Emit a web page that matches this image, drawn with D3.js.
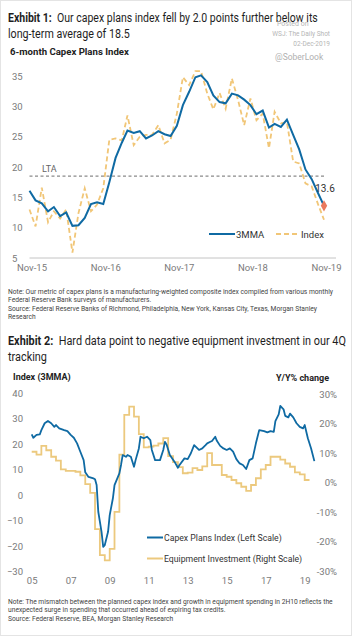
<!DOCTYPE html>
<html>
<head>
<meta charset="utf-8">
<script src="https://cdn.jsdelivr.net/npm/d3@7"></script>
<style>
  body { margin: 0; background: #fff; }
  svg { font-family: Roboto, "Noto Sans", sans-serif; display: block; }
</style>
</head>
<body>
<svg id="chart" width="352" height="637"></svg>
<script>
// ---- exhibit 1: monthly Nov-15 .. Nov-19
const ex1Start = "2015-11";
const ex1Ticks = ["Nov-15", "Nov-16", "Nov-17", "Nov-18", "Nov-19"];
const capex3mma = [16.1, 14.5, 14.0, 12.7, 13.4, 11.9, 12.5, 10.3, 10.4, 11.6, 13.9, 14.2, 13.9,
  17.5, 21.5, 24.0, 26.0, 25.6, 25.9, 24.7, 25.2, 25.9, 25.4, 25.1, 26.8, 30.2, 32.4, 34.8,
  35.1, 34.0, 31.8, 30.7, 30.5, 32.1, 31.8, 31.1, 30.2, 28.7, 29.3, 26.5, 27.1, 26.6, 27.8,
  25.3, 22.9, 19.6, 18.0, 15.8, 13.6];
const capexIndex = [13.0, 10.2, 16.6, 10.9, 12.7, 11.5, 13.0, 5.9, 12.4, 16.5, 12.7, 13.8, 16.5,
  24.5, 24.7, 24.4, 28.5, 23.6, 25.0, 25.3, 25.3, 26.9, 23.9, 24.5, 28.8, 34.8, 33.5, 35.8,
  35.8, 32.1, 29.5, 32.2, 29.6, 34.6, 31.0, 26.9, 31.3, 27.7, 28.8, 23.1, 29.1, 27.2, 27.4,
  20.9, 20.6, 17.3, 16.8, 14.0, 11.3];
const ltaValue = 18.5;
const ex1YTicks = [5, 10, 15, 20, 25, 30, 35];

// ---- exhibit 2
const capexDates2 = ["2005-01", "2005-02", "2005-04", "2005-06", "2005-07", "2005-09", "2005-11",
  "2006-01", "2006-03", "2006-04", "2006-06", "2006-09", "2006-11", "2007-01", "2007-03",
  "2007-05", "2007-07", "2007-09", "2007-10", "2007-12", "2008-03", "2008-04", "2008-05",
  "2008-06", "2008-08", "2008-09", "2008-10", "2008-12", "2009-01", "2009-03", "2009-04",
  "2009-07", "2009-08", "2009-09", "2009-11", "2009-12", "2010-02", "2010-04", "2010-05",
  "2010-07", "2010-08", "2010-10", "2010-12", "2011-02", "2011-03", "2011-05", "2011-08",
  "2011-10", "2011-11", "2011-12", "2012-02", "2012-05", "2012-07", "2012-08", "2012-11",
  "2013-01", "2013-03", "2013-05", "2013-08", "2013-10", "2013-12", "2014-01", "2014-03",
  "2014-04", "2014-06", "2014-07", "2014-09", "2014-11", "2015-01", "2015-03", "2015-05",
  "2015-07", "2015-09", "2015-11", "2016-01", "2016-03", "2016-05", "2016-07", "2016-09",
  "2016-12", "2017-02", "2017-04", "2017-06", "2017-07", "2017-09", "2017-10", "2017-12",
  "2018-01", "2018-03", "2018-04", "2018-06", "2018-08", "2018-10", "2018-12", "2019-01",
  "2019-03", "2019-05", "2019-07"];
const capexValues2 = [23.9, 22.6, 23.7, 23.9, 25.6, 28.3, 29.2, 28.3, 26.9, 27.6, 26.3, 25.6,
  25.2, 23.7, 22.6, 20.4, 17.1, 13.8, 9.0, 7.2, 6.6, 6.3, 4.0, -6.5, -14.4, -20.3, -19.6,
  -14.4, -7.8, -1.3, 4.0, 8.6, 11.9, 15.8, 15.1, 15.8, 15.1, 11.2, 13.8, 18.4, 23.0, 22.4,
  23.0, 21.7, 17.8, 13.8, 13.8, 17.8, 21.0, 20.0, 15.8, 13.1, 10.8, 11.9, 14.5, 14.2, 16.5,
  19.7, 17.8, 18.4, 19.7, 20.4, 21.0, 21.3, 23.0, 21.4, 19.4, 18.4, 17.8, 18.4, 17.1, 14.2,
  12.5, 11.9, 10.3, 13.8, 14.5, 20.4, 25.6, 25.2, 24.7, 25.2, 24.9, 29.1, 31.8, 35.1, 33.8,
  31.2, 30.6, 32.1, 30.6, 28.3, 26.9, 26.3, 27.6, 22.4, 18.4, 13.4];
// equipment investment y/y %, quarterly from 2005Q1
const equipStart = "2005-01";
const equipValues = [10.5, 9.5, 12.5, 11.0, 8.8, 7.5, 4.5, 4.0, 4.0, 3.7, 2.5, -0.5, -3.5,
  -15.8, -24.6, -26.4, -22.5, -9.9, 9.5, 23.0, 25.8, 22.4, 16.5, 12.0, 12.2, 12.6, 13.3, 15.1,
  9.0, 7.0, 5.3, 3.2, 3.4, 4.9, 4.3, 5.5, 10.0, 6.0, 6.0, 2.6, 2.0, 0.9, -0.2, -1.4, -2.8,
  -0.8, 1.5, 4.5, 6.0, 8.8, 8.8, 7.8, 6.5, 5.4, 3.5, 2.8, 0.9, 0.9];
const ex2XTicks = ["05", "07", "09", "11", "13", "15", "17", "19"];
const ex2LeftTicks = [-30, -20, -10, 0, 10, 20, 30, 40];
const ex2RightTicks = [-30, -20, -10, 0, 10, 20, 30];

const blue = "#0f6aa3";
const gold = "#f1c677";
const gold2 = "#ecc97e";
const grey = "#7a7a7a";

const parseMonth = d3.timeParse("%Y-%m");
const svg = d3.select("#chart");

// frame
svg.append("rect")
  .attr("x", 0.5).attr("y", 0.5).attr("width", 351).attr("height", 635)
  .attr("fill", "#fff").attr("stroke", "#e4e4e4");

function addLines(lines, x, y0, lh, size, color) {
  const t = svg.append("text")
    .attr("x", x).attr("y", y0)
    .style("font-size", size + "px").style("fill", color);
  lines.forEach((l, i) => {
    t.append("tspan").attr("x", x).attr("y", y0 + i * lh).text(l);
  });
  return t;
}

// title line, squeezed horizontally to the width seen in the picture
function addTitle(label, rest, y, width) {
  const t = svg.append("text")
    .style("font-size", "13.5px").style("fill", "#1e1e1e");
  if (label) t.append("tspan").style("font-weight", "bold").text(label + "\u00a0\u00a0");
  t.append("tspan").text(rest);
  const w = t.node().getComputedTextLength();
  t.attr("transform", `translate(8,${y}) scale(${width / w},1)`);
}

//---------- EXHIBIT 1 titles
addTitle("Exhibit 1:", "Our capex plans index fell by 2.0 points further below its", 22, 310);
addTitle(null, "long-term average of 18.5", 38, 122);

// watermark
svg.append("text").attr("x", 277).attr("y", 26).style("font-size", "7px").style("fill", "#b5b5b5").text("Posted on");
svg.append("text").attr("x", 330).attr("y", 36).attr("text-anchor", "end").style("font-size", "6.5px").style("fill", "#b5b5b5").text("WSJ: The Daily Shot");
svg.append("text").attr("x", 330).attr("y", 46).attr("text-anchor", "end").style("font-size", "6.5px").style("fill", "#b5b5b5").text("02-Dec-2019");
svg.append("text").attr("x", 275).attr("y", 60).style("font-size", "8.5px").style("fill", "#b0b0b0").text("@SoberLook");

svg.append("text").attr("x", 10).attr("y", 55)
  .style("font-size", "9.6px").style("font-weight", "bold").style("fill", "#222")
  .text("6-month Capex Plans Index");

//---------- EXHIBIT 1 chart
const ex1Dates = capex3mma.map((d, i) => d3.timeMonth.offset(parseMonth(ex1Start), i));
const x1 = d3.scaleTime()
  .domain([ex1Dates[0], ex1Dates[ex1Dates.length - 1]])
  .range([29.5, 324]);
const y1 = d3.scaleLinear().domain([5, 35]).range([258, 76]);

svg.append("g")
  .attr("transform", "translate(12,0)")
  .call(d3.axisRight(y1).tickValues(ex1YTicks).tickSize(0).tickPadding(0))
  .call(g => g.select(".domain").remove())
  .selectAll("text").style("font-size", "9.5px").style("fill", grey).style("font-family", "Roboto");

const x1Axis = svg.append("g")
  .attr("transform", "translate(0,258)")
  .call(d3.axisBottom(x1)
    .tickValues(ex1Ticks.map((t, i) => d3.timeMonth.offset(parseMonth(ex1Start), i * 12)))
    .tickFormat((d, i) => ex1Ticks[i]).tickSize(0).tickPadding(6));
x1Axis.select(".domain").remove();
x1Axis.selectAll("text").attr("dx", 2).style("font-size", "9.5px").style("fill", grey).style("font-family", "Roboto");
svg.append("line")
  .attr("x1", x1.range()[0]).attr("x2", 336)
  .attr("y1", y1(5)).attr("y2", y1(5))
  .attr("stroke", "#c4c4c4").attr("stroke-width", 1);

// long term average
svg.append("line")
  .attr("x1", x1.range()[0]).attr("x2", 325)
  .attr("y1", y1(ltaValue)).attr("y2", y1(ltaValue))
  .attr("stroke", "#8a8a8a").attr("stroke-width", 1.2).attr("stroke-dasharray", "3,2.5");
svg.append("text").attr("x", 42).attr("y", y1(ltaValue) - 4)
  .style("font-size", "9px").style("fill", "#666").text("LTA");

const line1 = d3.line().x((d, i) => x1(ex1Dates[i])).y(d => y1(d));
svg.append("path").datum(capexIndex)
  .attr("d", line1).attr("fill", "none")
  .attr("stroke", gold).attr("stroke-width", 1.8).attr("stroke-dasharray", "5,3");
svg.append("path").datum(capex3mma)
  .attr("d", line1).attr("fill", "none")
  .attr("stroke", blue).attr("stroke-width", 2);

const last = capex3mma.length - 1;
svg.append("path")
  .attr("d", d3.symbol(d3.symbolDiamond, 36))
  .attr("transform", `translate(${x1(ex1Dates[last])},${y1(capex3mma[last])})`)
  .attr("fill", "#ea7a5e");
svg.append("text")
  .attr("x", x1(ex1Dates[last]) + 1).attr("y", y1(capex3mma[last]) - 14)
  .attr("text-anchor", "middle")
  .style("font-size", "10px").style("fill", "#333").text(capex3mma[last].toFixed(1));

// legend 1
svg.append("line").attr("x1", 209).attr("x2", 235).attr("y1", 234).attr("y2", 234)
  .attr("stroke", blue).attr("stroke-width", 2);
svg.append("text").attr("x", 236).attr("y", 237.5).style("font-size", "9.5px").style("fill", "#333").text("3MMA");
svg.append("line").attr("x1", 276).attr("x2", 300).attr("y1", 234).attr("y2", 234)
  .attr("stroke", gold).attr("stroke-width", 1.8).attr("stroke-dasharray", "5,3");
svg.append("text").attr("x", 301).attr("y", 237.5).style("font-size", "9.5px").style("fill", "#333").text("Index");

addLines([
  "Note: Our metric of capex plans is a manufacturing-weighted composite index compiled from various monthly",
  "Federal Reserve Bank surveys of manufacturers.",
  "Source: Federal Reserve Banks of Richmond, Philadelphia, New York, Kansas City, Texas, Morgan Stanley",
  "Research"
], 8, 294, 8.4, 6.7, "#444");

//---------- EXHIBIT 2 titles
addTitle("Exhibit 2:", "Hard data point to negative equipment investment in our 4Q", 345, 338);
addTitle(null, "tracking", 361, 39);

svg.append("text").attr("x", 13).attr("y", 380)
  .style("font-size", "9px").style("font-weight", "bold").style("fill", "#222").text("Index (3MMA)");
svg.append("text").attr("x", 329).attr("y", 381).attr("text-anchor", "end")
  .style("font-size", "9px").style("font-weight", "bold").style("fill", "#222").text("Y/Y% change");

//---------- EXHIBIT 2 chart
const x2 = d3.scaleTime()
  .domain([parseMonth("2005-01"), parseMonth("2019-01")])
  .range([31.7, 304.7]);
const y2L = d3.scaleLinear().domain([-30, 40]).range([571.5, 393.5]);
const y2R = d3.scaleLinear().domain([-30, 30]).range([571, 394.3]);

svg.append("g").attr("transform", "translate(23,0)")
  .call(d3.axisLeft(y2L).tickValues(ex2LeftTicks).tickSize(0).tickPadding(0))
  .call(g => g.select(".domain").remove())
  .selectAll("text").style("font-size", "9.5px").style("fill", grey).style("font-family", "Roboto");
svg.append("g").attr("transform", "translate(337,0)")
  .call(d3.axisLeft(y2R).tickValues(ex2RightTicks).tickFormat(d => d + "%").tickSize(0).tickPadding(0))
  .call(g => g.select(".domain").remove())
  .selectAll("text").style("font-size", "9.5px").style("fill", grey).style("font-family", "Roboto");
svg.append("g").attr("transform", "translate(0,571)")
  .call(d3.axisBottom(x2)
    .tickValues(ex2XTicks.map(t => parseMonth("20" + t + "-01")))
    .tickFormat((d, i) => ex2XTicks[i]).tickSize(0).tickPadding(6))
  .call(g => g.select(".domain").remove())
  .selectAll("text").style("font-size", "9.5px").style("fill", grey).style("font-family", "Roboto");

const equipDates = equipValues.map((d, i) => d3.timeMonth.offset(parseMonth(equipStart), i * 3));
svg.append("path").datum(equipValues)
  .attr("d", d3.line().curve(d3.curveStepAfter)
    .x((d, i) => x2(equipDates[i])).y(d => y2R(d)))
  .attr("fill", "none").attr("stroke", gold2).attr("stroke-width", 1.8);

svg.append("path").datum(capexValues2)
  .attr("d", d3.line()
    .x((d, i) => x2(parseMonth(capexDates2[i]))).y(d => y2L(d)))
  .attr("fill", "none").attr("stroke", blue).attr("stroke-width", 1.8)
  .attr("stroke-linejoin", "round");

// legend 2
svg.append("line").attr("x1", 147).attr("x2", 163).attr("y1", 537.5).attr("y2", 537.5)
  .attr("stroke", blue).attr("stroke-width", 2);
svg.append("text").attr("x", 164).attr("y", 540.5).style("font-size", "8.7px").style("fill", "#333")
  .text("Capex Plans Index (Left Scale)");
svg.append("line").attr("x1", 147).attr("x2", 163).attr("y1", 558.5).attr("y2", 558.5)
  .attr("stroke", gold2).attr("stroke-width", 2);
svg.append("text").attr("x", 164).attr("y", 561.5).style("font-size", "8.7px").style("fill", "#333")
  .text("Equipment Investment (Right Scale)");

addLines([
  "Note: The mismatch between the planned capex index and growth in equipment spending in 2H10 reflects the",
  "unexpected surge in spending that occurred ahead of expiring tax credits.",
  "Source: Federal Reserve, BEA, Morgan Stanley Research"
], 8, 604, 8.4, 6.7, "#444");
</script>
</body>
</html>
